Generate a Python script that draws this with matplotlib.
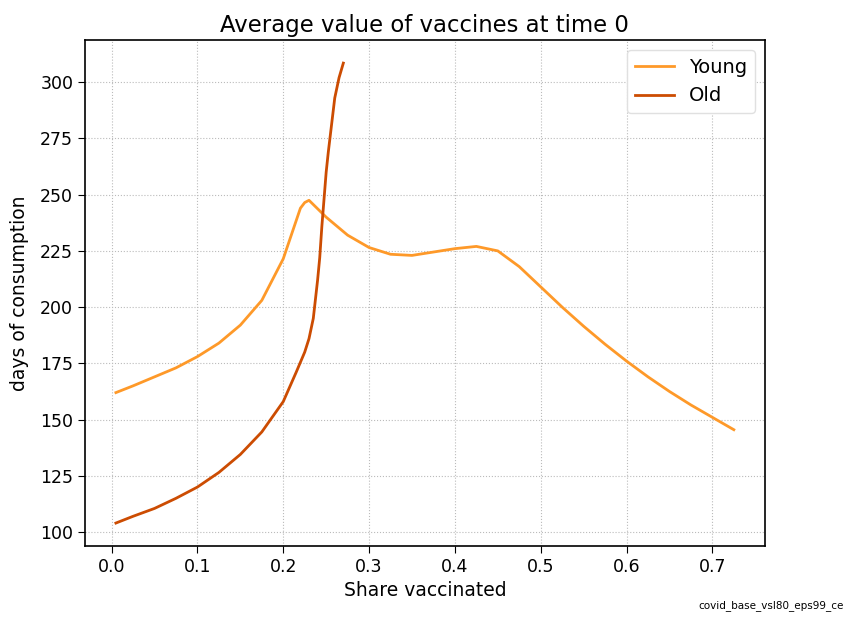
import matplotlib
matplotlib.use("Agg")
from matplotlib import pyplot as plt

# share vaccinated / days of consumption
young_x = [0.005, 0.025, 0.05, 0.075, 0.1, 0.125, 0.15, 0.175, 0.2, 0.22, 0.225, 0.23,
           0.25, 0.275, 0.3, 0.325, 0.35, 0.375, 0.4, 0.425, 0.45, 0.475, 0.5, 0.525,
           0.55, 0.575, 0.6, 0.625, 0.65, 0.675, 0.7, 0.725]
young_y = [162, 165, 169, 173, 178, 184, 192, 203, 221.5, 244, 246.5, 247.5,
           240, 232, 226.5, 223.5, 223, 224.5, 226, 227, 225, 218, 209, 200,
           191.5, 183.5, 176, 169, 162.5, 156.5, 151, 145.5]

old_x = [0.005, 0.025, 0.05, 0.075, 0.1, 0.125, 0.15, 0.175, 0.2, 0.215, 0.225, 0.23,
         0.235, 0.24, 0.2425, 0.245, 0.2475, 0.25, 0.2525, 0.255, 0.26, 0.265, 0.27]
old_y = [104, 107, 110.5, 115, 120, 126.5, 134.5, 144.5, 158, 171, 180, 186,
         195, 212, 222, 236, 248, 260, 269, 277, 293, 302, 308.5]

fig = plt.figure(figsize=(8.45, 6.17), dpi=100)
ax = fig.add_axes([0.1006, 0.115, 0.8044, 0.82])

ax.plot(young_x, young_y, color='#fe9929', lw=2, label='Young')
ax.plot(old_x, old_y, color='#cc4c02', lw=2, label='Old')

ax.set_title('Average value of vaccines at time 0', fontsize=16.4)
ax.set_xlabel('Share vaccinated', fontsize=13.5)
ax.set_ylabel('days of consumption', fontsize=13.5, labelpad=8)
ax.tick_params(labelsize=12.5, direction='out', length=5)
ax.set_yticks(range(100, 301, 25))
ax.grid(True, linestyle=':', color='#bbbbbb', lw=0.8)
for s in ax.spines.values():
    s.set_color('black')
    s.set_linewidth(1.2)

leg = ax.legend(loc='upper right', fontsize=14, framealpha=1)
leg.get_frame().set_edgecolor('#e0e0e0')

fig.text(0.998, 0.01, 'covid_base_vsl80_eps99_ce', ha='right', va='bottom', fontsize=7.5)

fig.savefig('out.png', dpi=100)
